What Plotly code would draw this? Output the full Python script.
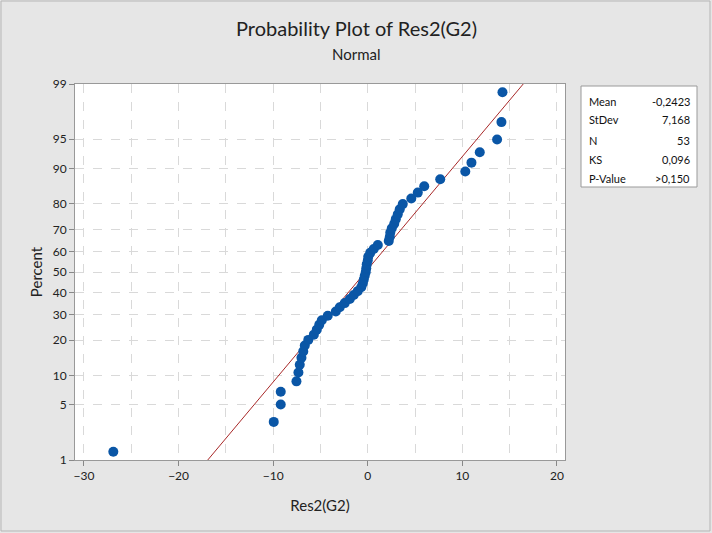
import plotly.graph_objects as go
from statistics import NormalDist

# ---- data ----
residuals = [-26.9, -9.94, -9.2, -9.2, -7.54, -7.33, -7.19, -7.01, -6.82, -6.66,
             -6.29, -5.7, -5.39, -5.13, -4.86, -4.23, -3.38, -2.96, -2.43, -1.90,
             -1.48, -1.06, -0.69, -0.53, -0.42, -0.32, -0.21, -0.16, -0.11, 0.0,
             0.05, 0.26, 0.63, 1.06, 2.22, 2.33, 2.38, 2.54, 2.80, 2.96,
             3.17, 3.38, 3.70, 4.60, 5.29, 5.97, 7.66, 10.31, 10.96, 11.84,
             13.67, 14.13, 14.24]
percents = [1.31, 3.18, 5.06, 6.93, 8.80, 10.67, 12.55, 14.42, 16.29, 18.16,
            20.04, 21.91, 23.78, 25.66, 27.53, 29.40, 31.27, 33.15, 35.02, 36.89,
            38.76, 40.64, 42.51, 44.38, 46.25, 48.13, 50.00, 51.87, 53.75, 55.62,
            57.49, 59.36, 61.24, 63.11, 64.98, 66.85, 68.73, 70.60, 72.47, 74.34,
            76.22, 78.09, 79.96, 81.84, 83.71, 85.58, 87.45, 89.33, 91.20, 93.07,
            94.94, 96.82, 98.69]
percent_ticks = [1, 5, 10, 20, 30, 40, 50, 60, 70, 80, 90, 95, 99]
x_ticks = [-30, -20, -10, 0, 10, 20]
mean_val = -0.2423
stdev_val = 7.168
stat_labels = ["Mean", "StDev", "N", "KS", "P-Value"]
stat_values = ["-0,2423", "7,168", "53", "0,096", ">0,150"]

nd = NormalDist()
def z(p):
    return nd.inv_cdf(p / 100.0)

y_pts = [z(p) for p in percents]
y_lo, y_hi = z(1), z(99)
fit_x = [mean_val + stdev_val * y_lo, mean_val + stdev_val * y_hi]

W, H = 712, 533
L, R, T, B = 75, 147, 84, 73
pw, ph = W - L - R, H - T - B

def px(xp):
    return (xp - L) / pw
def py(yp):
    return (H - B - yp) / ph

fig = go.Figure()
fig.add_trace(go.Scatter(x=fit_x, y=[y_lo, y_hi], mode="lines",
                         line=dict(color="#a82828", width=1), hoverinfo="skip"))
fig.add_trace(go.Scatter(x=residuals, y=y_pts, mode="markers",
                         marker=dict(color="#0a56a6", size=10, line=dict(width=0))))

font_main = "Lato, 'Open Sans', sans-serif"
fig.update_layout(
    width=W, height=H, showlegend=False,
    margin=dict(l=L, r=R, t=T, b=B, pad=0),
    paper_bgcolor="#e6e6e6", plot_bgcolor="white",
    font=dict(family=font_main, color="#222222", size=12),
    xaxis=dict(range=[-30.95, 20.85], tickvals=x_ticks, ticks="outside", ticklen=5,
               tickcolor="#888888", showline=True, linecolor="#999999", mirror=True,
               showgrid=True, gridcolor="#d9d9d9", griddash="dash", zeroline=False,
               minor=dict(dtick=5, tick0=0, showgrid=True, gridcolor="#d9d9d9", griddash="dash"),
               title=dict(text="Res2(G2)", font=dict(size=15), standoff=18),
               tickfont=dict(size=12)),
    yaxis=dict(range=[y_lo, y_hi], tickvals=[z(p) for p in percent_ticks],
               ticktext=[str(p) for p in percent_ticks], ticks="outside", ticklen=5,
               tickcolor="#888888", showline=True, linecolor="#999999", mirror=True,
               showgrid=True, gridcolor="#d9d9d9", griddash="dash", zeroline=False,
               title=dict(text="Percent", font=dict(size=15), standoff=6),
               tickfont=dict(size=12)),
)

annotations = [
    dict(text="Probability Plot of Res2(G2)", y=28, font=dict(size=20)),
    dict(text="Normal", y=54, font=dict(size=15)),
]
for a in annotations:
    fig.add_annotation(text=a["text"], xref="paper", yref="paper",
                       x=px(356), y=py(a["y"]), showarrow=False,
                       xanchor="center", yanchor="middle", font=a["font"])

# stats box
fig.add_shape(type="rect", xref="paper", yref="paper",
              x0=px(581), x1=px(697), y0=py(187), y1=py(86),
              fillcolor="white", line=dict(color="#9a9a9a", width=1))
row_y = [101, 120, 140, 159, 178]
for lab, val, ry in zip(stat_labels, stat_values, row_y):
    fig.add_annotation(text=lab, xref="paper", yref="paper", x=px(587), y=py(ry),
                       showarrow=False, xanchor="left", yanchor="middle",
                       font=dict(size=11, color="#111111"))
    fig.add_annotation(text=val, xref="paper", yref="paper", x=px(692), y=py(ry),
                       showarrow=False, xanchor="right", yanchor="middle",
                       font=dict(size=11, color="#111111"))

# outer frame
fig.add_shape(type="rect", xref="paper", yref="paper",
              x0=px(1), x1=px(710), y0=py(531), y1=py(1),
              line=dict(color="#b5b5b5", width=1), layer="below")

fig.write_html("out.html")
